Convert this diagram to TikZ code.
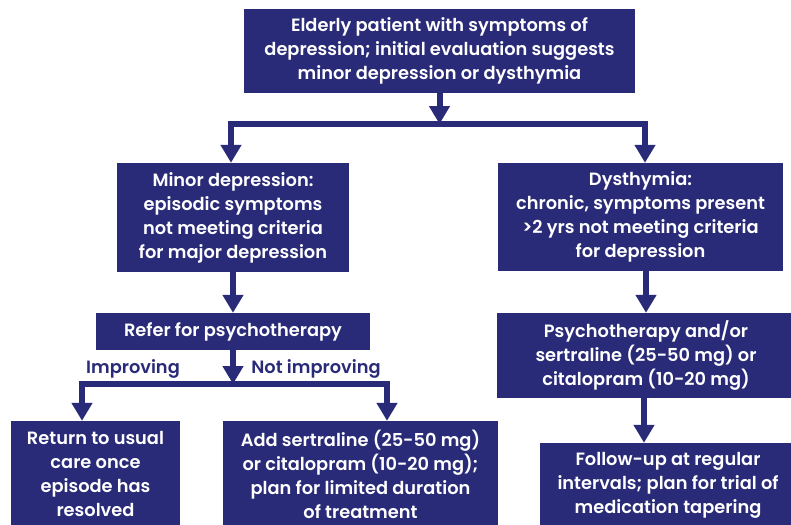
\documentclass[tikz,border=0pt]{standalone}
\usepackage{fontspec}
\setmainfont{Poppins}[BoldFont={Poppins SemiBold}]
\usetikzlibrary{arrows.meta}
\definecolor{navy}{RGB}{42,43,120}

\begin{document}
\begin{tikzpicture}[x=1pt,y=-1pt,
    box/.style={fill=navy,text=white,align=center,inner sep=0pt,font=\fontsize{17.8}{24}\selectfont\bfseries},
    lab/.style={text=navy,font=\fontsize{17.8}{24}\selectfont\bfseries},
    link/.style={draw=navy,line width=6pt},
    arr/.style={link,-{Triangle[width=20pt,length=18pt]}}]
    \useasboundingbox (0,0) rectangle (791,524);
    \begin{scope}
        \node[box,minimum width=391pt,minimum height=84pt] (patient) at (439.5,51)
            {Elderly patient with symptoms of\\depression; initial evaluation suggests\\minor depression or dysthymia};
        \node[box,minimum width=232pt,minimum height=109pt] (minor) at (233,217.5)
            {Minor depression:\\episodic symptoms\\not meeting criteria\\for major depression};
        \node[box,minimum width=285pt,minimum height=108pt] (dysthymia) at (640.5,217)
            {Dysthymia:\\chronic, symptoms present\\>2 yrs not meeting criteria\\for depression};
        \node[box,minimum width=274pt,minimum height=37pt] (refer) at (233,331.5)
            {Refer for psychotherapy};
        \node[box,minimum width=298pt,minimum height=85pt] (psycho) at (646,355.5)
            {Psychotherapy and/or\\sertraline (25-50 mg) or\\citalopram (10-20 mg)};
        \node[box,minimum width=169pt,minimum height=106pt] (usual) at (95.5,474)
            {Return to usual\\care once\\episode has\\resolved};
        \node[box,minimum width=275pt,minimum height=106pt] (addmed) at (360.5,474)
            {Add sertraline (25-50 mg)\\or citalopram (10-20 mg);\\plan for limited duration\\of treatment};
        \node[box,minimum width=256pt,minimum height=84pt] (followup) at (668,485)
            {Follow-up at regular\\intervals; plan for trial of\\medication tapering};
    \end{scope}
    \begin{scope}
        \coordinate (topsplit) at (439.5,124);
        \draw[arr] (patient.south) -- (topsplit);
        \draw[arr] (topsplit) -| ([xshift=-2pt]minor.north);
        \draw[arr] (topsplit) -| ([xshift=4.5pt]dysthymia.north);
        \draw[arr] (minor.south) -- (refer.north);
        \coordinate (refsplit) at (233,384);
        \draw[arr] (refer.south) -- (refsplit);
        \draw[arr] (refsplit) -| ([xshift=-13.5pt]usual.north);
        \draw[arr] (refsplit) -| ([xshift=26.5pt]addmed.north);
        \node[lab] (improving) at (133,369) {Improving};
        \node[lab] (notimproving) at (316,369) {Not improving};
        \draw[arr] (psycho.north |- dysthymia.south) -- (psycho.north);
        \draw[arr] ([xshift=-2pt]psycho.south) -- ([xshift=-2pt]psycho.south |- followup.north);
    \end{scope}
\end{tikzpicture}
\end{document}
